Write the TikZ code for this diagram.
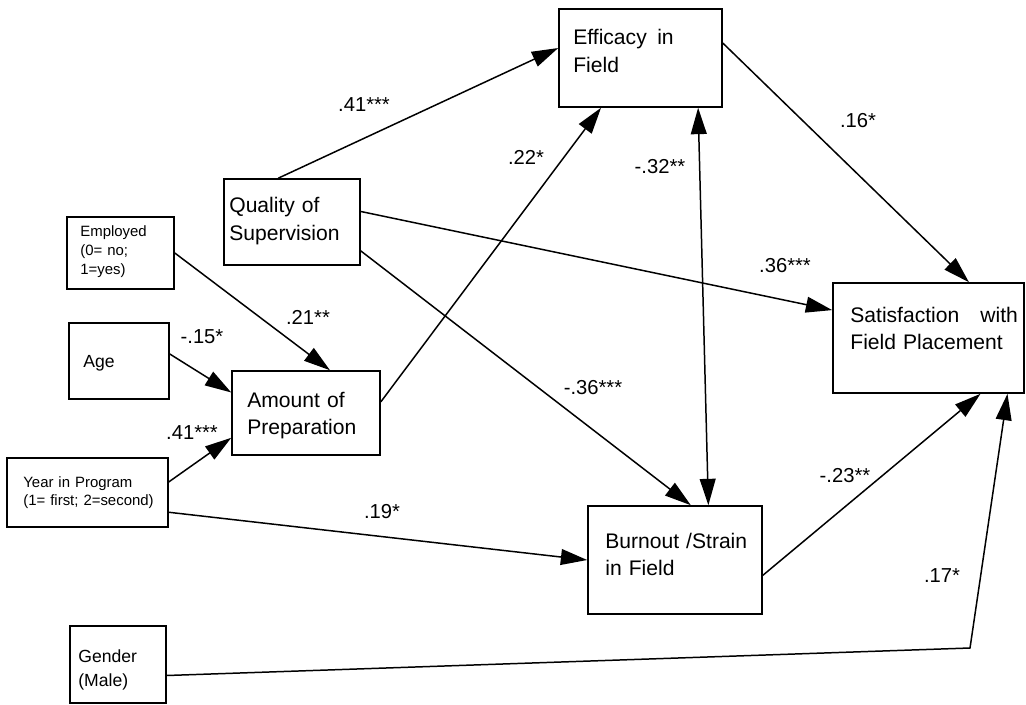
\documentclass[tikz,border=0pt]{standalone}
\usepackage{fontspec}
\setmainfont{Liberation Sans}
\usetikzlibrary{arrows.meta,positioning,fit,calc}

\begin{document}
\begin{tikzpicture}[
  x=0.02cm, y=-0.02cm,
  >={Triangle[length=15pt,width=9pt]},
  varbox/.style={draw, line width=0.9pt, inner sep=0pt},
  big/.style={font=\fontsize{12}{15.5}\selectfont, anchor=base west, inner sep=0pt, align=left, text width=4cm},
  mid/.style={font=\fontsize{10}{14}\selectfont, anchor=base west, inner sep=0pt, align=left, text width=2cm},
  small/.style={font=\fontsize{8.5}{10.6}\selectfont, anchor=base west, inner sep=0pt, align=left, text width=3.2cm},
  coef/.style={font=\fontsize{11.5}{13}\selectfont, inner sep=0pt},
  arr/.style={->, line width=0.85pt}
]
\useasboundingbox (0,0) rectangle (1026,705);

% boxes
\node[varbox, fit={(559,9) (722,107)}] (eff) {};
\node[varbox, fit={(833,283) (1024,393)}] (sat) {};
\node[varbox, fit={(588,506) (762,614)}] (burn) {};
\node[varbox, fit={(224,179) (360,265)}] (qual) {};
\node[varbox, fit={(67,217) (174,289)}] (emp) {};
\node[varbox, fit={(69,323) (169,399)}] (age) {};
\node[varbox, fit={(232,371) (380,455)}] (amt) {};
\node[varbox, fit={(7,458) (168,527)}] (year) {};
\node[varbox, fit={(70,626) (166,703)}] (gen) {};

% box texts
\node[big] (effT) at (573,45) {Efficacy\enskip in\\Field};
\node[big] (satT) at (850,322) {Satisfaction\quad with\\Field Placement};
\node[big] (burnT) at (605,548) {Burnout /Strain\\in Field};
\node[big] (qualT) at (229,213) {Quality of\\Supervision};
\node[big] (amtT) at (247,407) {Amount of\\Preparation};
\node[small] (empT) at (80,237) {Employed\\(0= no;\\1=yes)};
\node[mid] (ageT) at (83,367) {Age};
\node[small] (yearT) at (23,487) {Year in Program\\(1= first; 2=second)};
\node[mid] (genT) at (78,662) {Gender\\(Male)};

% paths
\draw[arr] ($(qual.north west)!0.40!(qual.north east)$) -- ($(eff.north west)!0.40!(eff.south west)$);
\draw[arr] ($(amt.north east)!0.37!(amt.south east)$) -- ($(eff.south west)!0.26!(eff.south east)$);
\draw[arr] ($(eff.north east)!0.35!(eff.south east)$) -- ($(sat.north west)!0.71!(sat.north east)$);
\draw[<->, line width=0.85pt] ($(eff.south west)!0.85!(eff.south east)$) -- ($(burn.north west)!0.69!(burn.north east)$);
\draw[arr] ($(qual.north east)!0.38!(qual.south east)$) -- ($(sat.north west)!0.25!(sat.south west)$);
\draw[arr] ($(qual.north east)!0.83!(qual.south east)$) -- ($(burn.north west)!0.59!(burn.north east)$);
\draw[arr] (emp.east) -- ($(amt.north west)!0.66!(amt.north east)$);
\draw[arr] ($(age.north east)!0.41!(age.south east)$) -- ($(amt.north west)!0.26!(amt.south west)$);
\draw[arr] ($(year.north east)!0.35!(year.south east)$) -- ($(amt.north west)!0.79!(amt.south west)$);
\draw[arr] ($(year.north east)!0.78!(year.south east)$) -- (burn.west);
\draw[arr] ($(burn.north east)!0.64!(burn.south east)$) -- ($(sat.south west)!0.77!(sat.south east)$);
\coordinate (genbend) at (970,648);
\draw[arr] ($(gen.north east)!0.64!(gen.south east)$) -- (genbend) -- ($(sat.south west)!0.91!(sat.south east)$);

% coefficients
\node[coef] (c1) at (364,105) {.41***};
\node[coef] (c2) at (526,157) {.22*};
\node[coef] (c3) at (858,121) {.16*};
\node[coef] (c4) at (660,167) {-.32**};
\node[coef] (c5) at (785,266) {.36***};
\node[coef] (c6) at (593,388) {-.36***};
\node[coef] (c7) at (308,317) {.21**};
\node[coef] (c8) at (202,337) {-.15*};
\node[coef] (c9) at (192,433) {.41***};
\node[coef] (c10) at (382,512) {.19*};
\node[coef] (c11) at (845,476) {-.23**};
\node[coef] (c12) at (942,576) {.17*};

\end{tikzpicture}
\end{document}
